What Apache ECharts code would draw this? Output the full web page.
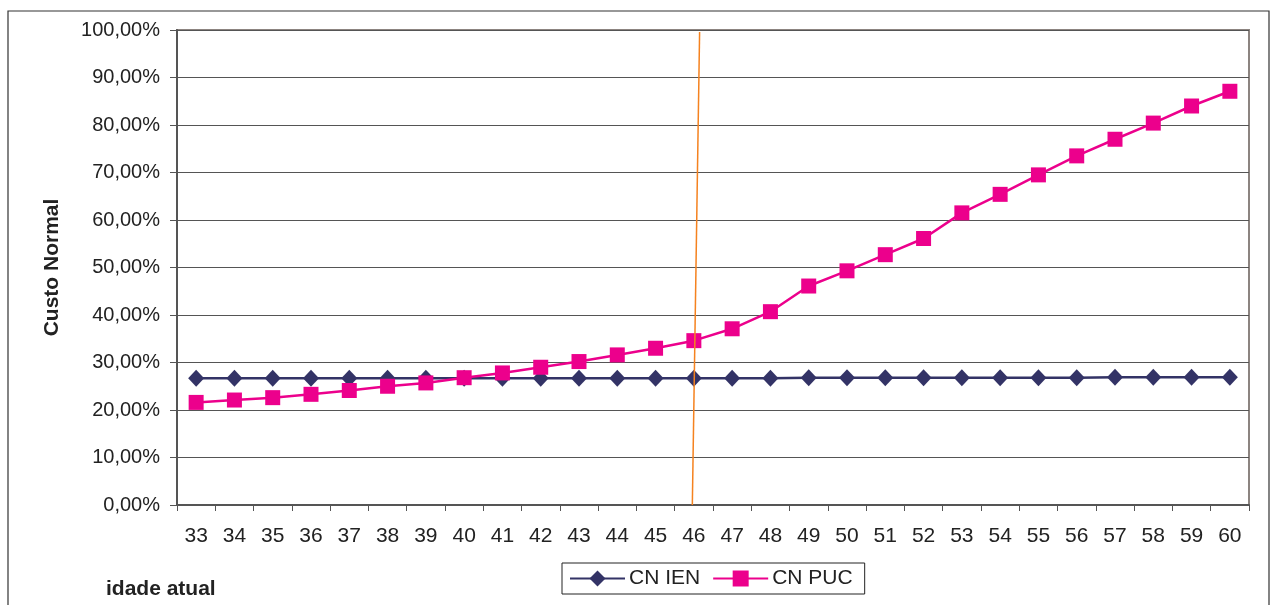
<!DOCTYPE html>
<html><head><meta charset="utf-8">
<script src="https://cdn.jsdelivr.net/npm/echarts@6/dist/echarts.min.js"></script>
<style>html,body{margin:0;padding:0;background:#fff}#c{width:1272px;height:605px}</style>
</head><body><div id="c"></div>
<script>
const ages = ['33','34','35','36','37','38','39','40','41','42','43','44','45','46','47','48','49','50','51','52','53','54','55','56','57','58','59','60'];
const cnIen = [26.7,26.7,26.7,26.7,26.7,26.7,26.7,26.7,26.7,26.7,26.7,26.7,26.7,26.7,26.7,26.7,26.8,26.8,26.8,26.8,26.8,26.8,26.8,26.8,26.9,26.9,26.9,26.9];
const cnPuc = [21.6,22.1,22.6,23.3,24.1,25.0,25.7,26.8,27.8,29.0,30.2,31.6,33.0,34.6,37.1,40.7,46.1,49.3,52.7,56.1,61.5,65.4,69.5,73.5,77.0,80.4,84.0,87.1];
const refLineX = [13.46, 13.65];
const refLineY = [0, 99.6];
const yTicks = {min:0, max:100, interval:10};

const font = 'Liberation Sans, Arial, sans-serif';
const chart = echarts.init(document.getElementById('c'));
chart.setOption({
  animation:false,
  backgroundColor:'#fff',
  grid:{left:177,right:23,top:30,bottom:100,show:true,borderColor:'#8c8480',borderWidth:2,containLabel:false},
  graphic:[
    {type:'rect',shape:{x:8,y:11,width:1261,height:640},style:{fill:'none',stroke:'#333',lineWidth:1.2},silent:true,z:-1},
    {type:'text',left:106,top:579,style:{text:'idade atual',font:'bold 21px '+font,fill:'#222'}}
  ],
  legend:{
    left:562,top:563,
    padding:[5,12,5,7],
    borderColor:'#222',borderWidth:1,
    itemWidth:55,itemHeight:20,itemGap:12,
    textStyle:{fontFamily:font,fontSize:21,color:'#222',padding:[0,0,0,-1]},
    data:['CN IEN','CN PUC']
  },
  xAxis:[{
    type:'category',data:ages,boundaryGap:true,
    axisLine:{lineStyle:{color:'#555',width:2}},
    axisTick:{show:true,length:6,lineStyle:{color:'#555'}},
    axisLabel:{fontFamily:font,fontSize:21,color:'#222',margin:21,interval:0},
    splitLine:{show:false}
  },{
    type:'value',min:0,max:28,show:false
  }],
  yAxis:{
    type:'value',min:yTicks.min,max:yTicks.max,interval:yTicks.interval,
    name:'Custo Normal',nameLocation:'middle',nameRotate:90,nameGap:114,
    nameTextStyle:{fontFamily:font,fontSize:21,fontWeight:'bold',color:'#222'},
    axisLine:{show:true,lineStyle:{color:'#555',width:2}},
    axisTick:{show:true,length:7,lineStyle:{color:'#555'}},
    axisLabel:{fontFamily:font,fontSize:20,color:'#222',margin:17,
      formatter:v=>v.toFixed(2).replace('.',',')+'%'},
    splitLine:{show:true,lineStyle:{color:'#555',width:1}}
  },
  series:[
    {name:'CN IEN',type:'line',data:cnIen,symbol:'diamond',symbolSize:[16,17],
      lineStyle:{color:'#333366',width:2.5},itemStyle:{color:'#333366'},z:3},
    {name:'CN PUC',type:'line',data:cnPuc,symbol:'rect',symbolSize:15,
      lineStyle:{color:'#ec008c',width:2.5},itemStyle:{color:'#ec008c'},z:4},
    {name:'ref',type:'line',xAxisIndex:1,data:refLineX.map((x,i)=>[x,refLineY[i]]),
      symbol:'none',lineStyle:{color:'#f5821f',width:1.5},z:5,silent:true}
  ]
});
</script></body></html>
